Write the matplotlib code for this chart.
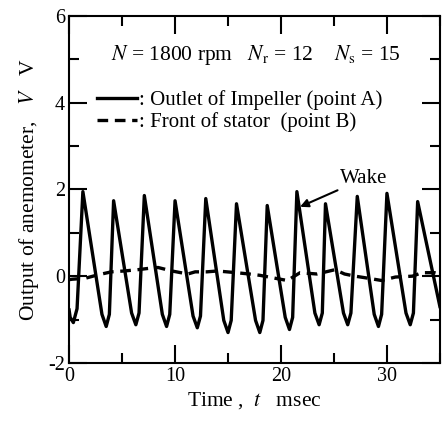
import numpy as np
import matplotlib
matplotlib.use("Agg")
import matplotlib.pyplot as plt
from matplotlib.ticker import MultipleLocator

plt.rcParams['font.family'] = ['Liberation Serif', 'DejaVu Serif']
plt.rcParams['mathtext.fontset'] = 'stix'
plt.rcParams['axes.unicode_minus'] = False

# point A: outlet of impeller (solid)
t_a = [0.0, 0.1, 0.4, 0.75, 1.3,
       3.1, 3.5, 3.8, 4.2,
       5.9, 6.3, 6.6, 7.1,
       8.8, 9.2, 9.5, 10.0,
       11.7, 12.1, 12.4, 12.9,
       14.6, 15.0, 15.3, 15.8,
       17.6, 18.0, 18.3, 18.7,
       20.4, 20.8, 21.1, 21.5,
       23.2, 23.6, 23.9, 24.2,
       25.9, 26.3, 26.6, 27.2,
       28.8, 29.2, 29.5, 30.0,
       31.8, 32.2, 32.5, 32.9,
       35.0]
v_a = [-0.78, -0.95, -1.07, -0.75, 1.95,
       -0.88, -1.16, -0.88, 1.74,
       -0.85, -1.12, -0.85, 1.86,
       -0.88, -1.16, -0.88, 1.74,
       -0.92, -1.19, -0.92, 1.79,
       -1.02, -1.30, -1.02, 1.67,
       -1.02, -1.30, -1.02, 1.63,
       -0.95, -1.23, -0.95, 1.95,
       -0.85, -1.12, -0.85, 1.67,
       -0.85, -1.12, -0.85, 1.84,
       -0.88, -1.16, -0.88, 1.91,
       -0.85, -1.12, -0.85, 1.72,
       -0.70]

# point B: front of stator (dashed)
t_b = [0.0, 0.3, 1.5, 2.7, 4.0, 5.2, 6.5, 7.5, 8.4, 9.7, 11.2, 11.9, 13.0,
       14.0, 15.8, 17.0, 18.0, 19.5, 20.6, 21.8, 23.4, 25.1, 26.0, 27.0,
       28.3, 29.5, 30.8, 32.4, 33.3, 34.5, 35.0]
v_b = [-0.08, -0.07, -0.05, 0.03, 0.1, 0.12, 0.15, 0.18, 0.2, 0.12, 0.05,
       0.1, 0.1, 0.12, 0.08, 0.05, 0.02, -0.05, -0.1, 0.08, 0.05, 0.15, 0.05,
       0.0, -0.05, -0.1, -0.02, 0.0, 0.08, 0.08, 0.05]

fig = plt.figure(figsize=(4.43, 4.21), dpi=100)
ax = fig.add_axes([0.156, 0.138, 0.837, 0.824])

ax.plot(t_a, v_a, color='black', lw=2.4, solid_joinstyle='round',
        label=': Outlet of Impeller (point A)')
ax.plot(t_b, v_b, color='black', lw=2.4, dashes=(3.2, 2.0),
        label=': Front of stator  (point B)')

ax.set_xlim(0, 35)
ax.set_ylim(-2, 6)
ax.xaxis.set_major_locator(MultipleLocator(10))
ax.xaxis.set_minor_locator(MultipleLocator(5))
ax.yaxis.set_major_locator(MultipleLocator(2))
ax.yaxis.set_minor_locator(MultipleLocator(1))
ax.tick_params(which='both', direction='in', top=True, right=True,
               width=1.5, labelsize=14.5, pad=3)
ax.tick_params(which='major', length=13)
ax.tick_params(which='minor', length=7)
for s in ax.spines.values():
    s.set_linewidth(1.5)

ax.set_xlabel('Time ,  $t$   msec', fontsize=15.5, labelpad=3)
ax.set_ylabel('Output of anemometer,   $V$   V', fontsize=15.5, labelpad=5)

ax.text(17.6, 5.1, r'$N$ = 1800 rpm   $N_{\rm r}$ = 12    $N_{\rm s}$ = 15',
        ha='center', va='center', fontsize=15.5)

ax.legend(loc='upper left', bbox_to_anchor=(0.075, 0.785), frameon=False,
          fontsize=15, handlelength=1.9, handletextpad=0.1,
          labelspacing=0.1, borderpad=0, borderaxespad=0)

ax.annotate('Wake', xy=(21.8, 1.6), xytext=(25.6, 2.25), fontsize=15,
            va='center', ha='left',
            arrowprops=dict(arrowstyle='-|>', color='black', lw=1.5,
                            shrinkA=0, shrinkB=0, mutation_scale=12))

fig.savefig('out.png', dpi=100)
